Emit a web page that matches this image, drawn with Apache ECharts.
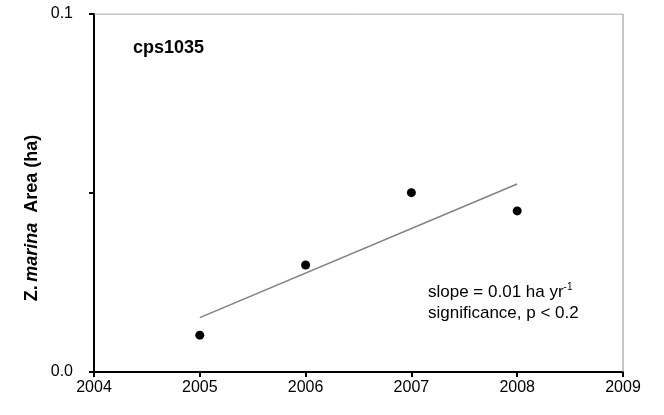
<!DOCTYPE html>
<html>
<head>
<meta charset="utf-8">
<script src="https://cdn.jsdelivr.net/npm/echarts@6/dist/echarts.min.js"></script>
<style>
  html, body { margin: 0; padding: 0; background: #fff; }
  #chart { width: 664px; height: 415px; }
</style>
</head>
<body>
<div id="chart"></div>
<script>
// Observed Z. marina area per survey year
const years = [2005, 2006, 2007, 2008];
const areaHa = [0.0103, 0.0299, 0.0501, 0.0450];

// Fitted linear trend at the first and last survey year
const trendYears = [2005, 2008];
const trendHa = [0.0152, 0.0525];

// Axis ticks
const xTicks = [2004, 2005, 2006, 2007, 2008, 2009];
const yTicks = [0, 0.05, 0.1];
const yTickLabels = { '0': '0.0', '0.1': '0.1' };

const FONT = '"Liberation Sans", Arial, sans-serif';

const chart = echarts.init(document.getElementById('chart'), null, { renderer: 'canvas' });

chart.setOption({
  animation: false,
  backgroundColor: '#fff',
  grid: { left: 94, right: 41, top: 14, bottom: 43, show: false },
  xAxis: {
    type: 'value',
    min: xTicks[0],
    max: xTicks[xTicks.length - 1],
    interval: 1,
    axisLine: { show: true, onZero: false, lineStyle: { color: '#000', width: 2 } },
    axisTick: { show: true, inside: false, length: 5, lineStyle: { color: '#000', width: 2 } },
    axisLabel: {
      color: '#000', fontFamily: FONT, fontSize: 16, margin: 8,
      formatter: v => String(v)
    },
    splitLine: { show: false }
  },
  yAxis: {
    type: 'value',
    min: yTicks[0],
    max: yTicks[yTicks.length - 1],
    interval: 0.05,
    axisLine: { show: true, lineStyle: { color: '#000', width: 2 } },
    axisTick: { show: true, inside: false, length: 5, lineStyle: { color: '#000', width: 2 } },
    axisLabel: {
      color: '#000', fontFamily: FONT, fontSize: 16, margin: 21,
      formatter: v => {
        const key = String(Math.round(v * 100) / 100);
        return yTickLabels[key] || '';
      }
    },
    splitLine: { show: false }
  },
  series: [
    {
      // plot frame: top and right edges
      type: 'line',
      data: [[xTicks[0], yTicks[yTicks.length - 1]], [xTicks[xTicks.length - 1], yTicks[yTicks.length - 1]], [xTicks[xTicks.length - 1], yTicks[0]]],
      symbol: 'none',
      lineStyle: { color: '#8c8c8c', width: 1 },
      silent: true,
      z: 1
    },
    {
      type: 'line',
      data: trendYears.map((x, i) => [x, trendHa[i]]),
      symbol: 'none',
      lineStyle: { color: '#808080', width: 1.5 },
      silent: true,
      z: 2
    },
    {
      type: 'scatter',
      data: years.map((x, i) => [x, areaHa[i]]),
      symbol: 'circle',
      symbolSize: 9,
      itemStyle: { color: '#000', opacity: 1 },
      z: 3
    }
  ],
  graphic: [
    {
      type: 'text',
      x: 133, y: 48,
      style: { text: 'cps1035', fontFamily: FONT, fontSize: 18, fontWeight: 'bold', fill: '#000', verticalAlign: 'middle' }
    },
    {
      type: 'text',
      x: 32, y: 218,
      rotation: Math.PI / 2,
      style: {
        text: '{b|Z.} {i|marina}{b|  Area (ha)}',
        align: 'center',
        verticalAlign: 'middle',
        rich: {
          b: { fontFamily: FONT, fontSize: 18, fontWeight: 'bold', fill: '#000' },
          i: { fontFamily: FONT, fontSize: 18, fontWeight: 'bold', fontStyle: 'italic', fill: '#000' }
        }
      }
    },
    {
      type: 'text',
      x: 428, y: 282,
      style: {
        text: '{t|slope = 0.01 ha yr}{s|-1}\n{t|significance, p < 0.2}',
        rich: {
          t: { fontFamily: FONT, fontSize: 17, fill: '#000', lineHeight: 21 },
          s: { fontFamily: FONT, fontSize: 10, fill: '#000', verticalAlign: 'top', lineHeight: 13 }
        }
      }
    }
  ]
});
</script>
</body>
</html>
